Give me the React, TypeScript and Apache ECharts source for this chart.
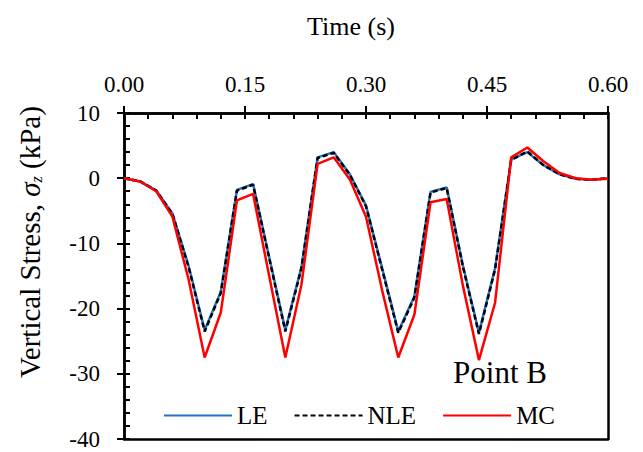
import React, { useEffect, useRef } from "react";
import * as echarts from "echarts";

const time = [0.0, 0.02, 0.04, 0.06, 0.08, 0.1, 0.12, 0.14, 0.16, 0.18, 0.2, 0.22, 0.24, 0.26, 0.28, 0.3, 0.32, 0.34, 0.36, 0.38, 0.4, 0.42, 0.44, 0.46, 0.48, 0.5, 0.52, 0.54, 0.56, 0.58, 0.6];
const leValues = [0, -0.5, -1.9, -5.4, -13.4, -23.3, -17.4, -1.8, -0.9, -12.1, -23.3, -13.6, 3.2, 4.0, 0.6, -4.2, -13.8, -23.5, -18.1, -2.1, -1.4, -13.3, -23.7, -13.8, 2.9, 4.0, 2.0, 0.6, -0.1, -0.25, 0];
const nleValues = [0, -0.5, -1.9, -5.5, -13.6, -23.5, -17.6, -1.9, -1.0, -12.3, -23.5, -13.8, 3.1, 3.9, 0.5, -4.3, -14.0, -23.7, -18.3, -2.2, -1.5, -13.5, -23.9, -14.0, 2.8, 4.1, 2.0, 0.6, -0.1, -0.25, 0];
const mcValues = [0, -0.5, -2.0, -5.9, -15.5, -27.5, -20.6, -3.4, -2.4, -15.0, -27.5, -16.3, 2.2, 3.2, -0.2, -5.9, -17.2, -27.5, -20.9, -3.7, -3.2, -16.4, -27.9, -19.1, 3.2, 4.7, 2.6, 0.8, 0, -0.25, -0.1];
const seriesNames = ["LE", "NLE", "MC"];
const xTicks = { min: 0, max: 0.6, interval: 0.15 };
const yTicks = { min: -40, max: 10, interval: 10 };
const annotation = "Point B";

const FONT = "'Liberation Serif', 'Times New Roman', serif";

export default function App() {
  const ref = useRef<HTMLDivElement>(null);
  useEffect(() => {
    if (!ref.current) return;
    const chart = echarts.init(ref.current, null, { renderer: "svg" });
    const pair = (vals: number[]) => time.map((t, i) => [t, vals[i]]);
    const axisLine = { show: true, onZero: false, lineStyle: { color: "#000", width: 2.5 } };
    const option: any = {
      animation: false,
      backgroundColor: "#fff",
      grid: { left: 124, right: 35, top: 113, bottom: 13, containLabel: false },
      xAxis: [
        {
          type: "value", position: "top", ...xTicks,
          axisLine,
          axisTick: { show: true, inside: true, length: 6, lineStyle: { color: "#000", width: 2 } },
          minorTick: { show: true, splitNumber: 5, length: 6, lineStyle: { color: "#000", width: 2 } },
          axisLabel: { formatter: (v: number) => v.toFixed(2), fontSize: 23, color: "#000", fontFamily: FONT, margin: 17 },
          splitLine: { show: false },
          name: "Time (s)", nameLocation: "middle", nameGap: 74,
          nameTextStyle: { fontSize: 26, color: "#000", fontFamily: FONT, padding: [0, 30, 0, 0] },
        },
        {
          type: "value", position: "top", ...xTicks,
          axisLine,
          axisTick: { show: true, inside: false, length: 7, lineStyle: { color: "#000", width: 2 } },
          axisLabel: { show: false }, splitLine: { show: false },
        },
        {
          type: "value", position: "bottom", ...xTicks,
          axisLine, axisTick: { show: false }, axisLabel: { show: false }, splitLine: { show: false },
        },
      ],
      yAxis: [
        {
          type: "value", position: "left", ...yTicks,
          axisLine,
          axisTick: { show: true, inside: true, length: 6, lineStyle: { color: "#000", width: 2 } },
          minorTick: { show: true, splitNumber: 5, length: 6, lineStyle: { color: "#000", width: 2 } },
          axisLabel: { fontSize: 23, color: "#000", fontFamily: FONT, margin: 24 },
          splitLine: { show: false },
          name: "{a|Vertical Stress, }{b|σ}{c|z}{a| (kPa)}",
          nameLocation: "middle", nameGap: 80, nameRotate: 90,
          nameTextStyle: {
            fontSize: 29, color: "#000", fontFamily: FONT, padding: [0, 0, 0, 68],
            rich: {
              a: { fontSize: 29, fontFamily: FONT, color: "#000" },
              b: { fontSize: 29, fontFamily: FONT, fontStyle: "italic", color: "#000" },
              c: { fontSize: 16, fontFamily: FONT, fontStyle: "italic", color: "#000", verticalAlign: "bottom", lineHeight: 20 },
            },
          },
        },
        {
          type: "value", position: "left", ...yTicks,
          axisLine,
          axisTick: { show: true, inside: false, length: 7, lineStyle: { color: "#000", width: 2 } },
          axisLabel: { show: false }, splitLine: { show: false },
        },
        {
          type: "value", position: "right", ...yTicks,
          axisLine, axisTick: { show: false }, axisLabel: { show: false }, splitLine: { show: false },
        },
      ],
      legend: {
        data: seriesNames,
        left: 158, top: 398,
        itemWidth: 68, itemHeight: 14, itemGap: 26,
        itemStyle: { opacity: 0 },
        textStyle: { fontSize: 25, color: "#000", fontFamily: FONT },
      },
      graphic: [
        {
          type: "text", x: 500, y: 372,
          style: { text: annotation, fontSize: 31, fontFamily: FONT, fill: "#000", align: "center", verticalAlign: "middle" },
        },
      ],
      series: [
        {
          name: seriesNames[0], type: "line", data: pair(leValues), symbol: "none",
          lineStyle: { color: "#1F73C4", width: 2.5 }, itemStyle: { color: "#1F73C4" },
        },
        {
          name: seriesNames[1], type: "line", data: pair(nleValues), symbol: "none",
          lineStyle: { color: "#000", width: 2.5, type: [5, 3] }, itemStyle: { color: "#000" },
        },
        {
          name: seriesNames[2], type: "line", data: pair(mcValues), symbol: "none",
          lineStyle: { color: "#FF0000", width: 2.5 }, itemStyle: { color: "#FF0000" },
        },
      ],
    };
    chart.setOption(option);
    return () => chart.dispose();
  }, []);
  return <div ref={ref} style={{ position: "fixed", left: 0, top: 0, width: 643, height: 452 }} />;
}
